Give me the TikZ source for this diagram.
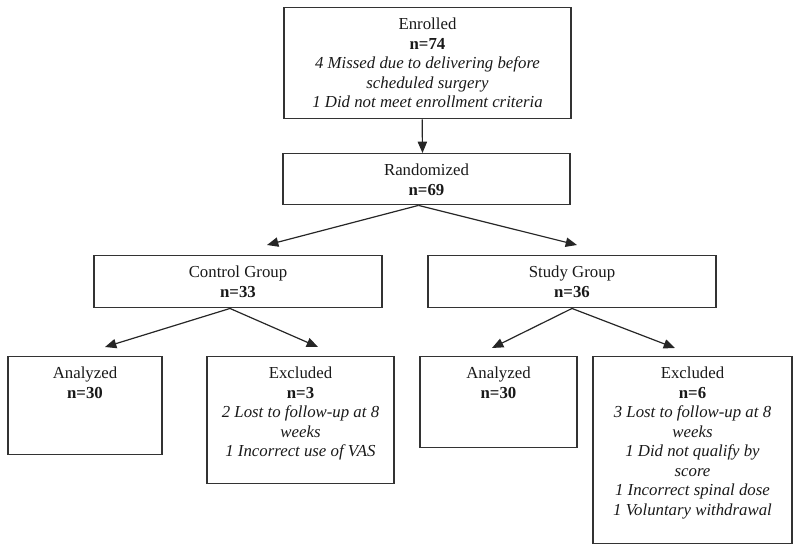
\documentclass[tikz,border=0pt]{standalone}
\usepackage{fontspec}
\setmainfont{Liberation Serif}
\usetikzlibrary{arrows.meta}

\tikzset{
  box/.style={draw=black!80, line width=1.1pt, anchor=north, align=center,
    inner xsep=2pt, inner ysep=0pt,
    font=\fontsize{12.6}{14.6}\selectfont, text=black!90},
  flow/.style={draw=black!85, line width=0.9pt, -{Triangle[length=8.5pt,width=7pt]}}
}

\begin{document}
\begin{tikzpicture}[x=0.75pt, y=-0.75pt]
    \useasboundingbox (0,0) rectangle (800,552);

    % arrow tips that stop short of the boxes
    \coordinate (T1) at (267, 245);
    \coordinate (T2) at (577, 245);
    \coordinate (T3) at (105, 347);
    \coordinate (T4) at (318, 347);
    \coordinate (T5) at (492, 348);
    \coordinate (T6) at (675, 348);

    % top
    \node[box, minimum width=215.25pt, text height=74.9pt, text depth=8.25pt] (enrol) at (427.5, 7)
      {Enrolled\\ \textbf{n=74}\\ \textit{4 Missed due to delivering before}\\
       \textit{scheduled surgery}\\ \textit{1 Did not meet enrollment criteria}};
    \node[box, minimum width=215.25pt, text height=31.1pt, text depth=7.1pt] (rand) at (426.5, 153)
      {Randomized\\ \textbf{n=69}};

    % groups
    \node[box, minimum width=216pt, text height=31.1pt, text depth=7.9pt] (ctrl) at (238, 255)
      {Control Group\\ \textbf{n=33}};
    \node[box, minimum width=216pt, text height=31.1pt, text depth=7.9pt] (study) at (572, 255)
      {Study Group\\ \textbf{n=36}};

    % outcomes
    \node[box, minimum width=115.5pt, text height=31.1pt, text depth=42.4pt] (canal) at (85, 356)
      {Analyzed\\ \textbf{n=30}};
    \node[box, minimum width=140.25pt, text height=74.9pt, text depth=20.25pt] (cexcl) at (300.5, 356)
      {Excluded\\ \textbf{n=3}\\ \textit{2 Lost to follow-up at 8}\\ \textit{weeks}\\
       \textit{1 Incorrect use of VAS}};
    \node[box, minimum width=117.75pt, text height=31.1pt, text depth=37.1pt] (sanal) at (498.5, 356)
      {Analyzed\\ \textbf{n=30}};
    \node[box, minimum width=149.25pt, text height=118.7pt, text depth=21.4pt] (sexcl) at (692.5, 356)
      {Excluded\\ \textbf{n=6}\\ \textit{3 Lost to follow-up at 8}\\ \textit{weeks}\\
       \textit{1 Did not qualify by}\\ \textit{score}\\ \textit{1 Incorrect spinal dose}\\
       \textit{1 Voluntary withdrawal}};

    \draw[flow] ([xshift=-4pt]enrol.south) -- ([xshift=-3pt]rand.north);
    \draw[flow] ([xshift=-6pt]rand.south) -- (T1);
    \draw[flow] ([xshift=-6pt]rand.south) -- (T2);
    \draw[flow] ([xshift=-6pt]ctrl.south) -- (T3);
    \draw[flow] ([xshift=-6pt]ctrl.south) -- (T4);
    \draw[flow] (study.south) -- (T5);
    \draw[flow] (study.south) -- (T6);

\end{tikzpicture}
\end{document}
